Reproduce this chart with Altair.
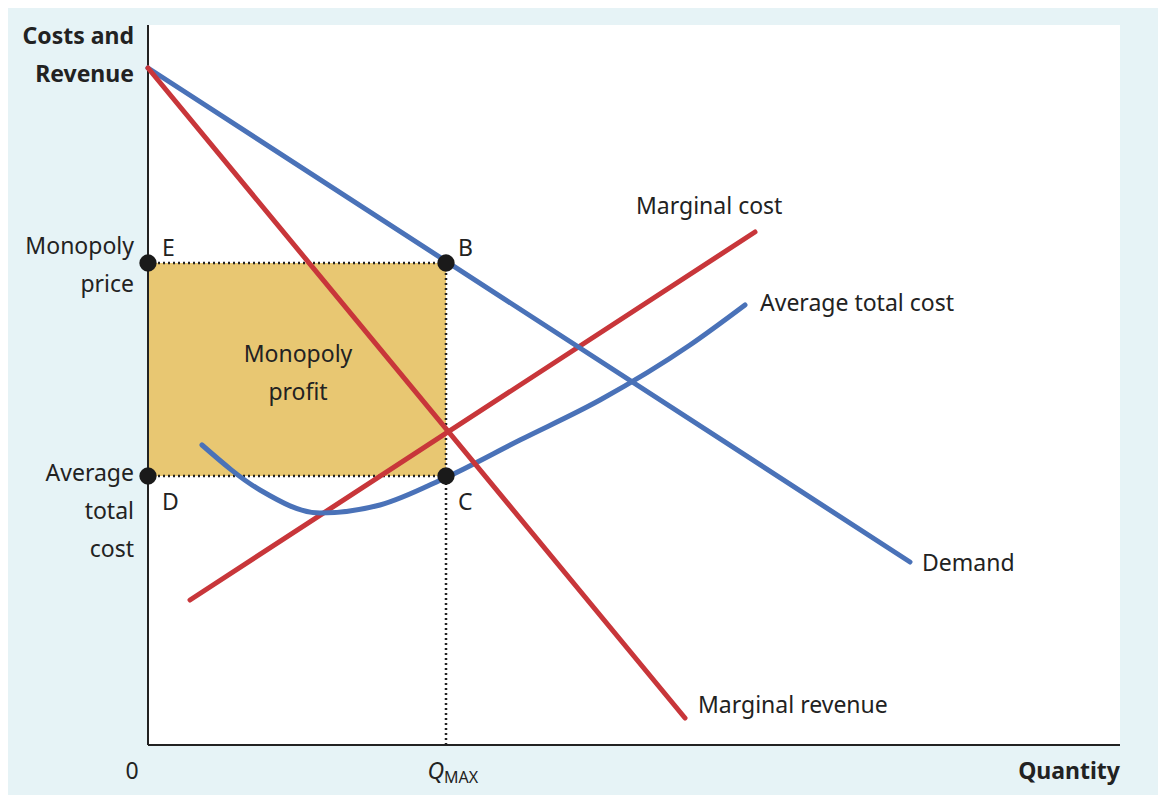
import altair as alt
import pandas as pd

# data coordinates: x 0..972, y 0..720
demand_x = [0, 762]; demand_y = [677, 183]
mr_x = [0, 537]; mr_y = [677, 27]
mc_x = [42, 607]; mc_y = [145, 513]
atc_x = [54, 112, 172, 232, 297, 372, 452, 542, 597]
atc_y = [300, 255, 232, 240, 267, 305, 345, 400, 440]
q_max = 298
p_mon = 482
atc_at_q = 269

BLUE = "#4a72b8"; RED = "#c8363a"; GOLD = "#e8c772"
X = alt.X("x:Q", scale=alt.Scale(domain=[0, 972]), axis=None)
Y = alt.Y("y:Q", scale=alt.Scale(domain=[0, 720]), axis=None)

def line(xs, ys, color, interp="linear"):
    df = pd.DataFrame({"x": xs, "y": ys, "o": range(len(xs))})
    return alt.Chart(df).mark_line(color=color, strokeWidth=5, strokeCap="round", interpolate=interp).encode(x=X, y=Y, order="o:Q")

rect = alt.Chart(pd.DataFrame({"x": [0], "x2": [q_max], "y": [atc_at_q], "y2": [p_mon]})).mark_rect(color=GOLD).encode(x=X, x2="x2", y=Y, y2="y2")

dots_df = pd.DataFrame({"x": [0, q_max, 0, q_max, q_max], "x2": [q_max, q_max, q_max, q_max, q_max],
                        "y": [p_mon, 0, atc_at_q, 0, 0], "y2": [p_mon, p_mon, atc_at_q, p_mon, p_mon]})
dotted = alt.Chart(dots_df.iloc[:3]).mark_rule(color="#222", strokeWidth=2.5, strokeDash=[2, 3]).encode(x=X, x2="x2", y=Y, y2="y2")

axes_df = pd.DataFrame({"x": [0, 0], "x2": [0, 972], "y": [0, 0], "y2": [720, 0]})
axes = alt.Chart(axes_df).mark_rule(color="#222", strokeWidth=2).encode(x=X, x2="x2", y=Y, y2="y2")

pts = alt.Chart(pd.DataFrame({"x": [0, q_max, 0, q_max], "y": [p_mon, p_mon, atc_at_q, atc_at_q]})).mark_circle(color="#1a1a1a", size=300, opacity=1).encode(x=X, y=Y)

labels = pd.DataFrame([
    (-14, 708, "Costs and", "right", "bold"),
    (-14, 670, "Revenue", "right", "bold"),
    (-14, 498, "Monopoly", "right", "normal"),
    (-14, 460, "price", "right", "normal"),
    (-14, 271, "Average", "right", "normal"),
    (-14, 233, "total", "right", "normal"),
    (-14, 195, "cost", "right", "normal"),
    (14, 496, "E", "left", "normal"),
    (310, 496, "B", "left", "normal"),
    (14, 242, "D", "left", "normal"),
    (310, 242, "C", "left", "normal"),
    (150, 390, "Monopoly", "center", "normal"),
    (150, 352, "profit", "center", "normal"),
    (488, 538, "Marginal cost", "left", "normal"),
    (612, 441, "Average total cost", "left", "normal"),
    (774, 181, "Demand", "left", "normal"),
    (550, 39, "Marginal revenue", "left", "normal"),
    (-16, -27, "0", "center", "normal"),
    (972, -27, "Quantity", "right", "bold"),
], columns=["x", "y", "t", "a", "w"])

def txt(df, align, weight):
    return alt.Chart(df).mark_text(align=align, baseline="middle", font="Noto Sans", fontSize=23,
                                   fontWeight=weight, color="#222").encode(x=X, y=Y, text="t:N")

layers = [rect, dotted, axes, line(mc_x, mc_y, RED), line(atc_x, atc_y, BLUE, "monotone"),
          line(demand_x, demand_y, BLUE), line(mr_x, mr_y, RED), pts]
for (a, w), g in labels.groupby(["a", "w"]):
    layers.append(txt(g, a, w))
layers.append(alt.Chart(pd.DataFrame({"x": [q_max - 2], "y": [-27], "t": ["Q"]})).mark_text(
    align="right", baseline="middle", font="Noto Sans", fontSize=23, fontStyle="italic", color="#222").encode(x=X, y=Y, text="t:N"))
layers.append(alt.Chart(pd.DataFrame({"x": [q_max - 2], "y": [-33], "t": ["MAX"]})).mark_text(
    align="left", baseline="middle", font="Noto Sans", fontSize=16, color="#222").encode(x=X, y=Y, text="t:N"))

chart = alt.layer(*layers).properties(
    width=972, height=720, autosize=alt.AutoSizeParams(type="none"),
    padding={"left": 140, "top": 17, "right": 38, "bottom": 50}
).configure(background="#e6f3f6").configure_view(fill="white", stroke=None)

chart.save("out.html", embed_options={"renderer": "svg", "actions": False})
